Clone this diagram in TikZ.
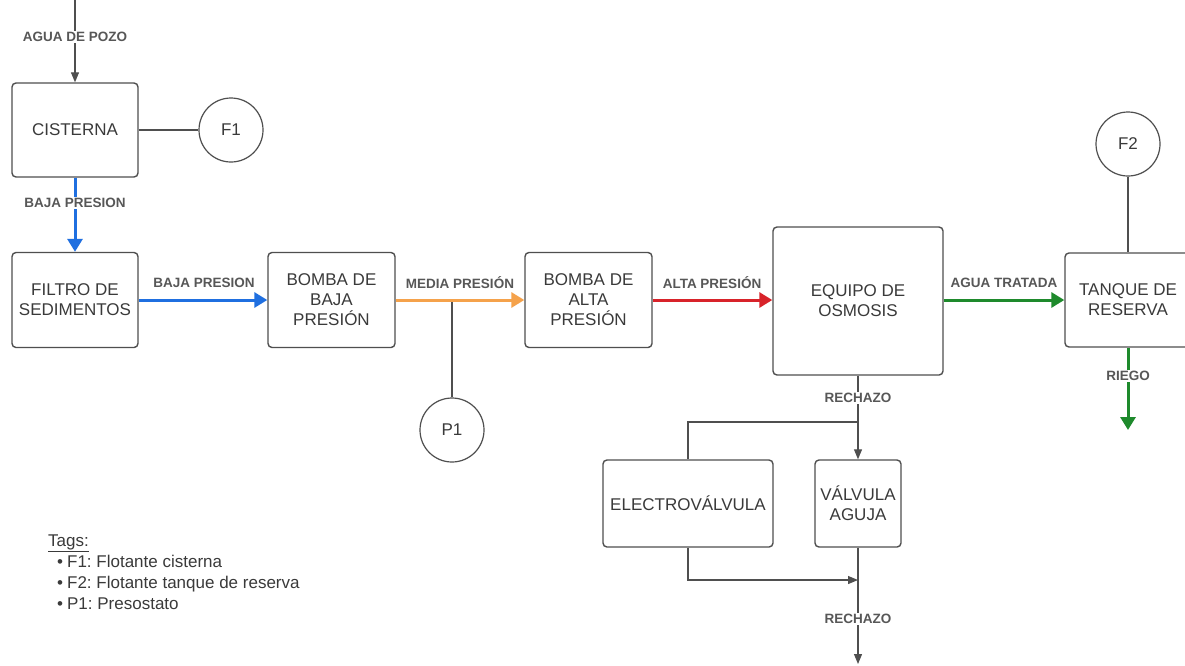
\documentclass[tikz,border=0pt]{standalone}
\usepackage{fontspec}
\setmainfont{Liberation Sans}
\usetikzlibrary{arrows.meta}
\definecolor{edge}{HTML}{4F4F4F}
\definecolor{ink}{HTML}{3A3A3A}
\definecolor{lbl}{HTML}{575757}
\definecolor{flowblue}{HTML}{1F6FE0}
\definecolor{floworange}{HTML}{F5A24B}
\definecolor{flowred}{HTML}{D8232A}
\definecolor{flowgreen}{HTML}{1E8A2C}
\frenchspacing
\begin{document}
\begin{tikzpicture}[x=1pt,y=-1pt,
  unitbox/.style={draw=edge, line width=1.4pt, rounded corners=4pt, fill=white,
    text=ink, font=\fontsize{17}{20}\selectfont, align=center, inner sep=0pt},
  tagcircle/.style={circle, draw=edge, line width=1.2pt, minimum size=64pt,
    inner sep=0pt, text=ink, font=\fontsize{17}{20}\selectfont},
  pipe/.style={draw=edge, line width=1.1pt},
  thinflow/.style={pipe, -{Triangle[length=10pt,width=8pt]}},
  thickflow/.style={line width=3pt, -{Triangle[length=13pt,width=15pt]}},
  flowlabel/.style={text=lbl, font=\bfseries\fontsize{13.5}{16}\selectfont, inner sep=1.5pt},
  legend/.style={anchor=base west, text=ink, font=\fontsize{17}{21}\selectfont, inner sep=0pt}
]
\fill[white] (0,0) rectangle (1185,665);
\useasboundingbox (0,0) rectangle (1185,665);

% process units
\node[unitbox, minimum width=126pt, minimum height=94pt] (cis) at (75,130) {CISTERNA};
\node[unitbox, minimum width=126pt, minimum height=95pt] (fil) at (75,300) {FILTRO DE\\SEDIMENTOS};
\node[unitbox, minimum width=127pt, minimum height=95pt] (bbaja) at (331.5,300) {BOMBA DE\\BAJA\\PRESIÓN};
\node[unitbox, minimum width=127pt, minimum height=95pt] (balta) at (588.5,300) {BOMBA DE\\ALTA\\PRESIÓN};
\node[unitbox, minimum width=170pt, minimum height=148pt] (osm) at (858,301) {EQUIPO DE\\OSMOSIS};
\node[unitbox, minimum width=126pt, minimum height=94pt] (tan) at (1128,300) {TANQUE DE\\RESERVA};
\node[unitbox, minimum width=170pt, minimum height=87pt] (ele) at (688,503.5) {ELECTROVÁLVULA};
\node[unitbox, minimum width=86pt, minimum height=87pt] (vag) at (858,503.5) {VÁLVULA\\AGUJA};

% instruments
\node[tagcircle] (f1) at (231,130) {F1};
\node[tagcircle] (f2) at (1128,144) {F2};
\node[tagcircle] (p1) at (452,430) {P1};

% free ends and junctions
\coordinate (well) at (75,0);
\coordinate (riegoend) at (1128,430);
\coordinate (split) at (858,422);
\coordinate (merge) at (858,580);
\coordinate (drain) at (858,664);

% instrument taps
\draw[pipe] (cis.east) -- (f1.west);
\draw[pipe] (f2.south) -- (tan.north);
\draw[pipe] (p1.north) -- (p1.north |- bbaja.east);

% main line
\draw[thinflow] (well) -- (cis.north);
\draw[thickflow, flowblue] (cis.south) -- (fil.north);
\draw[thickflow, flowblue] (fil.east) -- (bbaja.west);
\draw[thickflow, floworange] (bbaja.east) -- (balta.west);
\draw[thickflow, flowred] (balta.east) -- (balta.east -| osm.west);
\draw[thickflow, flowgreen] (osm.east |- tan.west) -- (tan.west);
\draw[thickflow, flowgreen] (tan.south) -- (riegoend);

% reject line
\draw[pipe] (osm.south) -- (split);
\draw[thinflow] (split) -- (vag.north);
\draw[pipe] (split) -| (ele.north);
\draw[thinflow] (ele.south) |- (merge);
\draw[pipe] (vag.south) -- (merge);
\draw[thinflow] (merge) -- (drain);

% flow labels
\node[flowlabel, fill=white] (lpozo) at (75,37) {AGUA DE POZO};
\node[flowlabel, fill=white] (lbaja1) at (75,203) {BAJA PRESION};
\node[flowlabel] (lbaja2) at (204,283) {BAJA PRESION};
\node[flowlabel] (lmedia) at (460,283) {MEDIA PRESIÓN};
\node[flowlabel] (lalta) at (712,283) {ALTA PRESIÓN};
\node[flowlabel] (ltratada) at (1004,283) {AGUA TRATADA};
\node[flowlabel, fill=white] (lriego) at (1128,376) {RIEGO};
\node[flowlabel, fill=white] (lrech1) at (858,398) {RECHAZO};
\node[flowlabel, fill=white] (lrech2) at (858,619) {RECHAZO};

% legend
\node[legend] (tagtitle) at (48,546) {\underline{Tags:}};
\node[legend] (tagf1) at (57,567) {\textbullet\hspace{4pt}F1: Flotante cisterna};
\node[legend] (tagf2) at (57,588) {\textbullet\hspace{4pt}F2: Flotante tanque de reserva};
\node[legend] (tagp1) at (57,609) {\textbullet\hspace{4pt}P1: Presostato};
\end{tikzpicture}
\end{document}
